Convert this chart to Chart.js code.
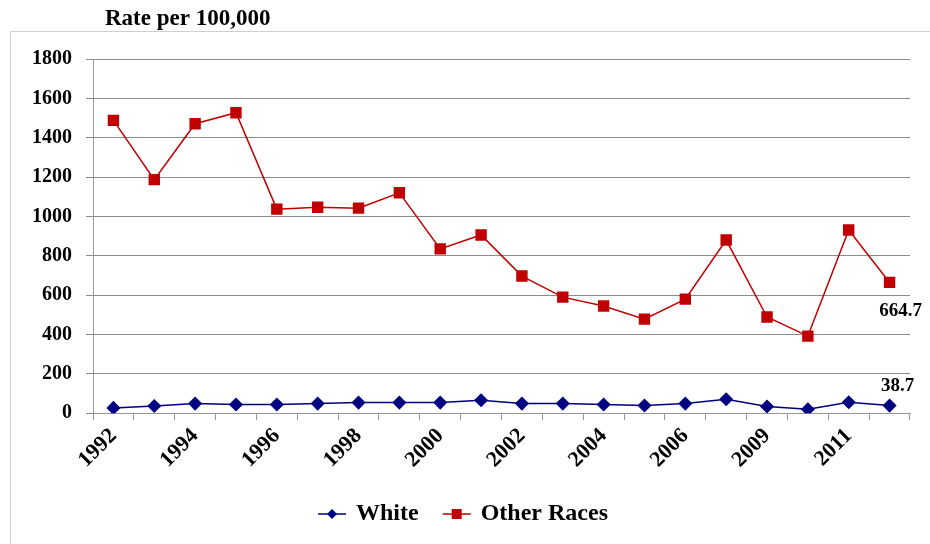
<!DOCTYPE html>
<html>
<head>
<meta charset="utf-8">
<script src="https://cdn.jsdelivr.net/npm/chart.js@4"></script>
<style>
  html, body { margin: 0; padding: 0; background: #fff; }
  #wrap { width: 930px; height: 544px; position: relative; }
</style>
</head>
<body>
<div id="wrap"><canvas id="rateChart"></canvas></div>
<script>
  // years (2007 is missing in the source)
  const years = ["1992", "1993", "1994", "1995", "1996", "1997", "1998", "1999", "2000", "2001",
                 "2002", "2003", "2004", "2005", "2006", "2008", "2009", "2010", "2011", "2012"];
  // only every second year gets a label, as in the original
  const yearLabels = ["1992", "", "1994", "", "1996", "", "1998", "", "2000", "",
                      "2002", "", "2004", "", "2006", "", "2009", "", "2011", ""];
  const white = [27, 37, 49, 44, 44, 49, 54, 54, 54, 66, 49, 49, 44, 39, 49, 71, 34, 20, 56, 38.7];
  const otherRaces = [1488, 1187, 1471, 1527, 1037, 1047, 1042, 1120, 835, 906,
                      697, 590, 545, 478, 580, 880, 489, 392, 931, 664.7];

  const serif = "'Liberation Serif', 'DejaVu Serif', serif";

  // legend symbol: short line with the marker in the middle
  function legendSymbol(color, style) {
    const c = document.createElement("canvas");
    c.width = 30; c.height = 14;
    const g = c.getContext("2d");
    g.strokeStyle = color; g.lineWidth = 1.5;
    g.beginPath(); g.moveTo(1, 7); g.lineTo(29, 7); g.stroke();
    g.fillStyle = color;
    if (style === "diamond") {
      g.beginPath(); g.moveTo(15, 2); g.lineTo(20, 7); g.lineTo(15, 12); g.lineTo(10, 7); g.closePath(); g.fill();
    } else {
      g.fillRect(10, 2, 10, 10);
    }
    return c;
  }

  // outer frame + title above it
  const framePlugin = {
    id: "frame",
    beforeDraw(chart) {
      const ctx = chart.ctx;
      ctx.save();
      ctx.strokeStyle = "#d0d0d0";
      ctx.lineWidth = 1;
      ctx.strokeRect(10.5, 31.5, 960, 560);
      ctx.restore();
    },
    afterDraw(chart) {
      const ctx = chart.ctx;
      ctx.save();
      ctx.fillStyle = "#000";
      ctx.font = "bold 23px " + serif;
      ctx.textBaseline = "alphabetic";
      ctx.fillText("Rate per 100,000", chart.chartArea.left + 12, 25);
      ctx.restore();
    }
  };

  // value labels for the last point of each series
  const lastLabels = {
    id: "lastLabels",
    afterDatasetsDraw(chart) {
      const ctx = chart.ctx;
      const offsets = [[8, -20], [11, 29]];
      ctx.save();
      ctx.font = "bold 19px " + serif;
      ctx.fillStyle = "#000";
      ctx.textAlign = "center";
      ctx.textBaseline = "middle";
      chart.data.datasets.forEach((ds, i) => {
        const meta = chart.getDatasetMeta(i);
        const pt = meta.data[meta.data.length - 1];
        const v = ds.data[ds.data.length - 1];
        ctx.fillText(v.toFixed(1), pt.x + offsets[i][0], pt.y + offsets[i][1]);
      });
      ctx.restore();
    }
  };

  const config = {
    type: "line",
    data: {
      labels: years,
      datasets: [{
          label: "White",
          data: white,
          borderColor: "#000080",
          backgroundColor: "#000080",
          borderWidth: 1.5,
          pointStyle: "rectRot",
          pointRadius: 6,
          pointHoverRadius: 6,
          tension: 0
      }, {
          label: "Other Races",
          data: otherRaces,
          borderColor: "#c00000",
          backgroundColor: "#c00000",
          borderWidth: 1.5,
          pointStyle: "rect",
          pointRadius: 7,
          pointHoverRadius: 7,
          tension: 0
      }]
    },
    options: {
      responsive: false,
      animation: false,
      layout: { padding: { left: 18, right: 20, top: 59, bottom: 8 } },
      plugins: {
        legend: {
          position: "bottom",
          labels: {
            usePointStyle: true,
            generateLabels(chart) {
              return chart.data.datasets.map((ds, i) => ({
                text: ds.label,
                pointStyle: legendSymbol(ds.borderColor, i === 0 ? "diamond" : "square"),
                fillStyle: ds.borderColor,
                strokeStyle: ds.borderColor,
                lineWidth: 0,
                fontColor: "#000",
                datasetIndex: i,
                hidden: false
              }));
            },
            color: "#000",
            font: { family: serif, size: 24, weight: "bold" },
            padding: 26,
            boxWidth: 30
          }
        },
        tooltip: { enabled: false }
      },
      scales: {
        x: {
          offset: true,
          grid: { display: true, drawOnChartArea: false, drawTicks: true, tickLength: 7, color: "#999", offset: true },
          border: { color: "#999" },
          ticks: {
            autoSkip: false,
            minRotation: 45,
            maxRotation: 45,
            color: "#000",
            font: { family: serif, size: 22, weight: "bold" },
            callback: (v, i) => yearLabels[i]
          }
        },
        y: {
          min: 0,
          max: 1800,
          ticks: {
            stepSize: 200,
            color: "#000",
            padding: 14,
            font: { family: serif, size: 20, weight: "bold" },
            callback: (v) => String(v)
          },
          grid: { color: "#8c8c8c", tickLength: 7 },
          border: { color: "#999" }
        }
      }
    },
    plugins: [framePlugin, lastLabels]
  };

  const cv = document.getElementById("rateChart");
  cv.width = 930; cv.height = 544;
  new Chart(cv, config);
</script>
</body>
</html>
